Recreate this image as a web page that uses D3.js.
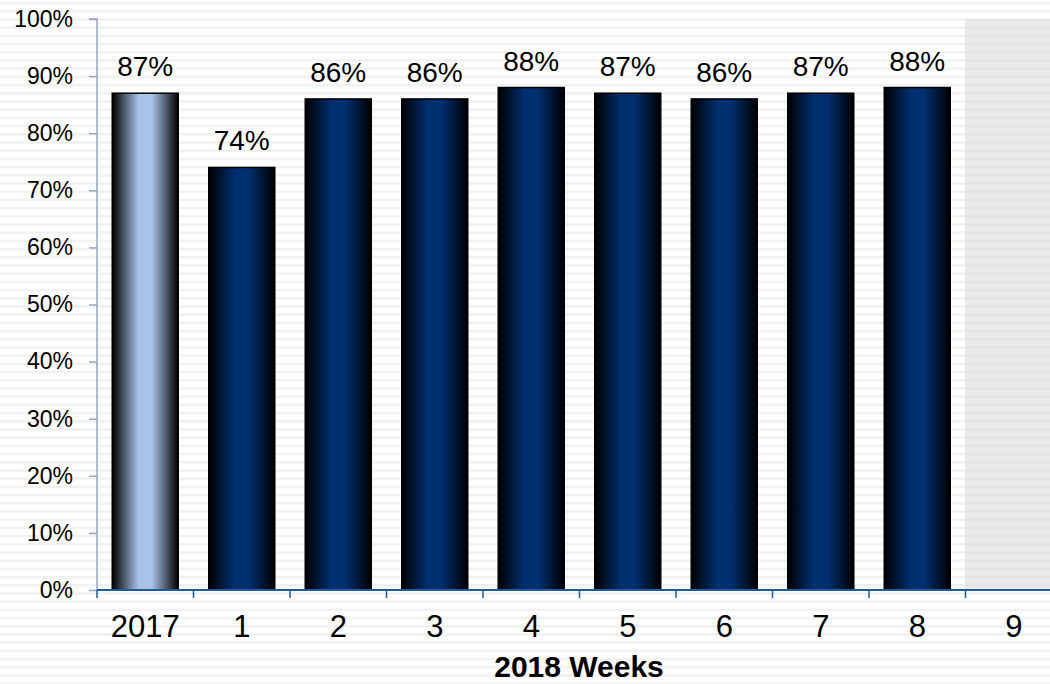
<!DOCTYPE html>
<html><head><meta charset="utf-8">
<script src="https://cdn.jsdelivr.net/npm/d3@7"></script>
<style>html,body{margin:0;padding:0;background:#fff;overflow:hidden}</style>
</head><body>
<svg id="c" width="1050" height="684"></svg>
<script>
const categories = ["2017","1","2","3","4","5","6","7","8","9"];
const values = [87, 74, 86, 86, 88, 87, 86, 87, 88, null];
const yTicks = [0,10,20,30,40,50,60,70,80,90,100];
const xTitle = "2018 Weeks";
const shadedCategory = "9";

(function(){
const svg = d3.select("#c");
const defs = svg.append("defs");
const pat = defs.append("pattern").attr("id","stripes").attr("patternUnits","userSpaceOnUse")
  .attr("width",8).attr("height",8.2);
pat.append("rect").attr("x",0).attr("y",2).attr("width",8).attr("height",2.2).attr("fill","#efefef");

function grad(id, center){
  const g = defs.append("linearGradient").attr("id",id).attr("x1","0%").attr("x2","100%").attr("y1","0").attr("y2","0");
  g.append("stop").attr("offset","0%").attr("stop-color","#000");
  g.append("stop").attr("offset","40%").attr("stop-color",center);
  g.append("stop").attr("offset","60%").attr("stop-color",center);
  g.append("stop").attr("offset","100%").attr("stop-color","#000");
}
grad("gLight","#a7c3e8");
grad("gDark","#013070");

svg.append("rect").attr("width",1050).attr("height",684).attr("fill","url(#stripes)");

const pLeft = 97, pTop = 19, pBottom = 590;
const font = "Liberation Sans, Arial, sans-serif";
const x = d3.scaleBand().domain(categories).range([pLeft, pLeft + 96.5*categories.length]).paddingInner(0.316).paddingOuter(0.158);
const y = d3.scaleLinear().domain([0,100]).range([pBottom, pTop]);

// shaded future region
svg.append("rect").attr("x", x(shadedCategory) - x.step()*x.paddingInner()/2 - 0.5).attr("y", pTop)
  .attr("width", 200).attr("height", pBottom - pTop).attr("fill","#d8d8d8").attr("opacity",0.55);

// y axis
const yAxis = svg.append("g").attr("transform",`translate(${pLeft},0)`)
  .call(d3.axisLeft(y).tickValues(yTicks).tickFormat(d => d + "%").tickSize(8).tickPadding(16));
yAxis.attr("font-size",null).attr("font-family",null);
yAxis.select(".domain").attr("stroke","#9aa4bf").attr("stroke-width",1.5).attr("d",`M-8,${pTop}H0V${pBottom}`);
yAxis.selectAll(".tick line").attr("stroke","#9aa4bf").attr("stroke-width",1.5);
yAxis.selectAll("text").attr("font-family",font).attr("font-size",23).attr("fill","#000");

// bars
const data = categories.map((c,i)=>({c, v: values[i]})).filter(d => d.v != null);
svg.append("g").selectAll("rect").data(data).join("rect")
  .attr("x", d => x(d.c)).attr("y", d => y(d.v))
  .attr("width", x.bandwidth()).attr("height", d => y(0) - y(d.v))
  .attr("fill", (d,i) => i === 0 ? "url(#gLight)" : "url(#gDark)")
  .attr("stroke","#000").attr("stroke-width",1.5);

svg.append("g").selectAll("text").data(data).join("text")
  .attr("x", d => x(d.c) + x.bandwidth()/2).attr("y", d => y(d.v) - 17)
  .attr("text-anchor","middle").attr("font-family",font)
  .attr("font-size",28).attr("fill","#000").text(d => d.v + "%");

// x axis
const xg = svg.append("g").attr("transform",`translate(0,${pBottom})`);
xg.append("line").attr("x1",pLeft).attr("x2",1050).attr("y1",0).attr("y2",0).attr("stroke","#1f5b97").attr("stroke-width",2);
const bounds = categories.map(c => x(c) - x.step()*x.paddingInner()/2);
xg.selectAll("line.t").data(bounds).join("line").attr("class","t")
  .attr("x1", d=>d).attr("x2", d=>d).attr("y1",0).attr("y2",8).attr("stroke","#1f5b97").attr("stroke-width",1.5);
xg.selectAll("text").data(categories).join("text")
  .attr("x", c => x(c) + x.bandwidth()/2).attr("y", 47)
  .attr("text-anchor","middle").attr("font-family",font)
  .attr("font-size",31).attr("fill","#000").text(c => c);

svg.append("text").attr("x",579).attr("y",677).attr("text-anchor","middle")
  .attr("font-family",font).attr("font-weight","bold")
  .attr("font-size",30).attr("fill","#000").text(xTitle);
})();
</script>
</body></html>
